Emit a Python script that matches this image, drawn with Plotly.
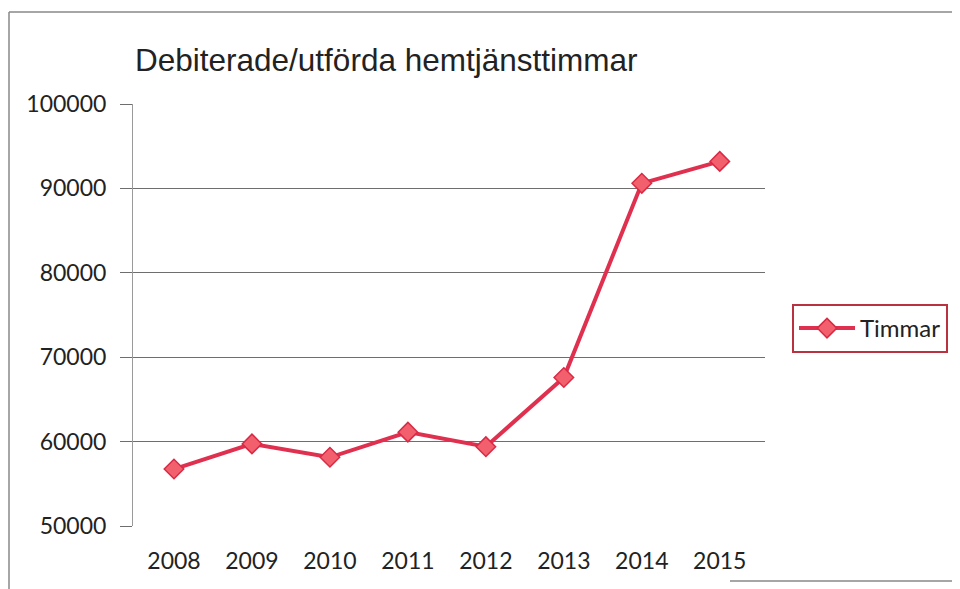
import plotly.graph_objects as go

years = ["2008", "2009", "2010", "2011", "2012", "2013", "2014", "2015"]
timmar = [56750, 59730, 58140, 61120, 59400, 67600, 90600, 93200]
y_ticks = [50000, 60000, 70000, 80000, 90000, 100000]

# figure is drawn inside the page's 8px body margin
W, H = 952, 581
L, PW = 125, 632
T, PH = 96, 422


def px(fx):
    return (fx - L) / PW


def py(fy):
    return (T + PH - fy) / PH


line_color = "#e0304f"
fig = go.Figure()
fig.add_trace(go.Scatter(
    x=years, y=timmar, mode="lines+markers", name="Timmar",
    line=dict(color=line_color, width=4),
    marker=dict(symbol="diamond", size=15, color="#f2606e",
                line=dict(color="#d92a45", width=1.5)),
))

frame = dict(color="#888", width=1.5)
fig.update_layout(
    width=W, height=H,
    margin=dict(l=L, r=W - L - PW, t=T, b=H - T - PH, autoexpand=False),
    paper_bgcolor="white", plot_bgcolor="white",
    title=dict(text="Debiterade/utförda hemtjänsttimmar",
               font=dict(family="Liberation Sans, Arial", size=31.5, color="#222"),
               x=127 / W, xanchor="left", xref="container",
               y=1 - 52 / H, yanchor="middle"),
    xaxis=dict(type="category", range=[-41 / 78, 7.58], showgrid=False,
               showline=False, ticks="",
               tickfont=dict(family="Lato, Open Sans", size=23, color="#222"),
               ticklabelstandoff=19),
    yaxis=dict(range=[50000, 100000], tickvals=y_ticks,
               ticktext=[str(v) for v in y_ticks],
               showgrid=True, gridcolor="#6e6e6e", gridwidth=1.2,
               showline=True, linecolor="#9a9a9a", linewidth=1,
               ticks="outside", ticklen=12, tickcolor="#6e6e6e",
               zeroline=False, ticklabelstandoff=9,
               tickfont=dict(family="Lato, Open Sans", size=23, color="#222")),
    showlegend=True,
    legend=dict(x=px(784), xanchor="left", y=py(320.5), yanchor="middle",
                bordercolor="#b8323f", borderwidth=2, bgcolor="white",
                itemwidth=56,
                font=dict(family="Lato, Open Sans", size=24, color="#222")),
    shapes=[
        dict(type="line", xref="paper", yref="paper",
             x0=px(1), x1=px(1), y0=py(4), y1=py(581), line=frame),
        dict(type="line", xref="paper", yref="paper",
             x0=px(1), x1=px(952), y0=py(4), y1=py(4), line=frame),
        dict(type="line", xref="paper", yref="paper",
             x0=px(722), x1=px(952), y0=py(573), y1=py(573), line=frame),
    ],
)

fig.write_html("out.html")
